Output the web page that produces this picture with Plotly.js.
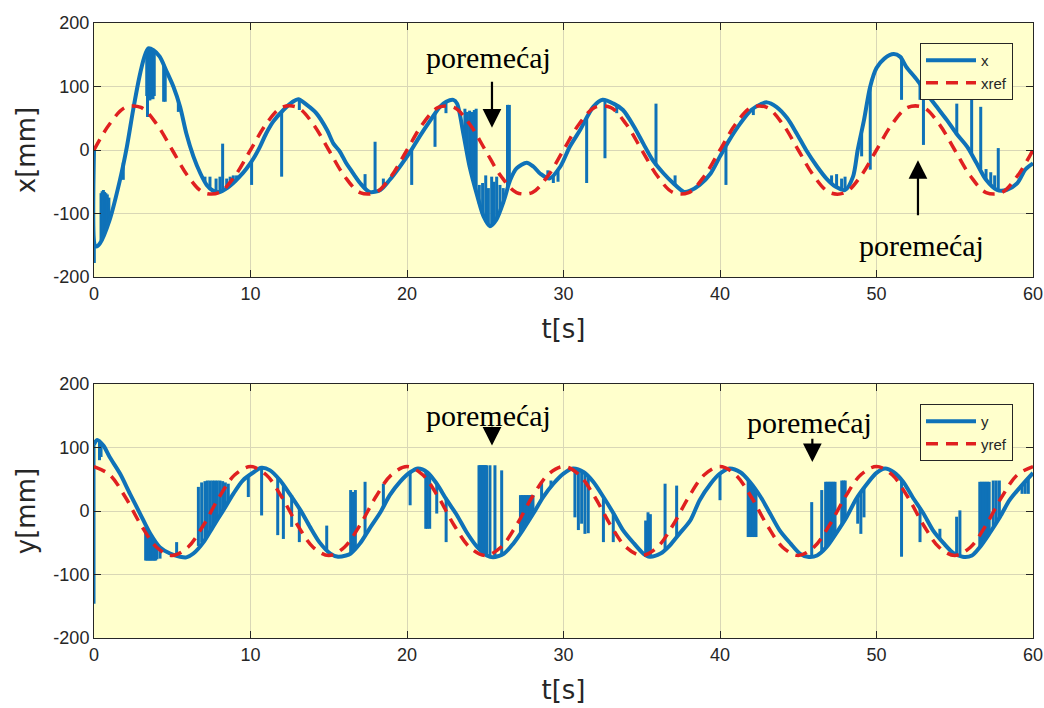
<!DOCTYPE html>
<html><head><meta charset="utf-8">
<script src="https://cdn.plot.ly/plotly-3.0.1.min.js"></script>
<style>html,body{margin:0;padding:0;background:#fff;}#chart{width:1044px;height:708px;}</style>
</head><body><div id="chart"></div>
<script>
// ---- time / tick labels ----
var xTicks = [0, 10, 20, 30, 40, 50, 60];
var yTicks = [-200, -100, 0, 100, 200];

// ---- reference signals (read at 1 s steps) ----
var tRef = [0,1,2,3,4,5,6,7,8,9,10,11,12,13,14,15,16,17,18,19,20,21,22,23,24,25,26,27,28,29,30,31,32,33,34,35,36,37,38,39,40,41,42,43,44,45,46,47,48,49,50,51,52,53,54,55,56,57,58,59,60];
var xRef = [0,41,67,67,41,0,-41,-67,-67,-41, 0,41,67,67,41,0,-41,-67,-67,-41, 0,41,67,67,41,0,-41,-67,-67,-41, 0,41,67,67,41,0,-41,-67,-67,-41, 0,41,67,67,41,0,-41,-67,-67,-41, 0,41,67,67,41,0,-41,-67,-67,-41, 0];
var yRef = [70,57,22,-22,-57,-70,-57,-22,22,57, 70,57,22,-22,-57,-70,-57,-22,22,57, 70,57,22,-22,-57,-70,-57,-22,22,57, 70,57,22,-22,-57,-70,-57,-22,22,57, 70,57,22,-22,-57,-70,-57,-22,22,57, 70,57,22,-22,-57,-70,-57,-22,22,57, 70];

// ---- measured x (main curve) ----
var xCurveT = [0,0.05,0.15,0.38,1.0,1.66,2.1,2.5,2.9,3.2,3.47,3.8,4.2,4.6,5.07,5.5,5.9,6.35,6.8,7.2,7.6,8.05,8.5,8.9,9.3,9.75,10.2,10.6,11.0,11.46,12.1,12.7,13.05,13.6,14.2,14.9,15.3,15.7,16.1,16.4,17.0,17.6,18.3,18.9,19.55,20.2,20.8,21.5,22.1,22.5,22.96,23.2,23.6,24.0,24.5,24.9,25.3,25.7,26.2,26.6,27.0,27.65,28.07,28.5,29.1,29.8,30.4,31.05,31.9,32.5,33.2,33.8,34.5,35.1,35.7,36.4,37.0,37.7,38.1,38.7,39.4,40.0,40.6,41.3,42.0,42.6,43.0,43.6,44.3,44.9,45.5,46.2,46.8,47.4,48.0,48.5,48.8,49.2,49.6,50.0,50.5,51.1,51.5,51.9,52.6,53.2,53.85,54.5,55.1,55.8,56.4,57.0,57.7,58.3,59.0,59.5,60.0];
var xCurveV = [0,-150,-152,-147,-110,-47,5,63,115,145,160,157,147,126,100,68,26,-10,-37,-55,-64,-66,-60,-52,-42,-29,-13,5,26,45,63,76,80,71,58,31,10,-2,-20,-31,-52,-66,-63,-47,-26,-3,21,47,68,76,79,73,26,-26,-73,-105,-120,-110,-79,-47,-29,-20,-26,-37,-45,-26,5,31,68,79,73,63,37,10,-16,-37,-52,-66,-64,-55,-37,-10,16,42,63,72,75,68,50,26,0,-26,-45,-58,-63,-42,0,47,100,129,144,151,147,131,110,89,68,47,26,5,-21,-47,-63,-63,-52,-31,-21];
// ---- measured x (spikes: time, curve value, spike tip) ----
var xSpikeT    = [0.02,0.45,0.52,0.6,0.68,0.76,0.85,0.95,1.87,3.37,3.42,3.5,3.57,3.63,3.7,3.77,3.85,4.45,4.55,5.39,7.09,7.41,7.8,8.05,8.22,8.48,8.7,8.9,9.11,10.07,11.99,13.12,17.32,17.96,18.49,20.3,21.79,22.49,23.7,23.85,24.0,24.15,24.3,24.42,24.62,24.83,25.03,25.2,25.41,25.56,25.73,25.94,26.15,26.42,26.48,26.54,29.0,29.35,29.65,31.48,32.65,33.4,35.91,37.13,40.38,42.13,47.13,47.45,47.77,47.99,49.05,49.6,51.6,52.78,53.0,55.13,56.08,56.66,57.0,57.3,57.55,57.78];
var xSpikeBase = [-150,-142,-138,-134,-130,-125,-120,-113,-20,156,158,160,160,159,158,157,156,135,130,78,-50,-60,-65,-66,-64,-60,-56,-52,-47,-18,60,80,-62,-66,-60,0,57,76,15,-5,-26,-40,-55,-65,-85,-100,-110,-118,-120,-115,-108,-95,-82,-60,-55,-50,-45,-40,-32,50,79,70,-25,-55,5,65,-55,-58,-61,-63,25,100,147,105,97,26,-5,-30,-47,-55,-60,-63];
var xSpikeTip  = [-178,-68,-65,-63,-66,-68,-70,-75,-47,85,52,80,78,80,82,80,85,76,76,60,-42,-42,-45,-42,10,-45,-42,-40,-40,-55,-42,63,-38,13,-45,-55,5,58,65,60,62,60,63,65,-55,-52,-40,-60,-42,-50,-42,-55,-60,71,71,71,-32,-52,-50,-52,-13,58,73,-40,-55,55,-40,-38,-45,-42,-10,-31,79,79,8,73,79,68,-30,-35,-40,3];

// ---- measured y (main curve) ----
var yCurveT = [0,0.2,0.6,1.0,1.66,2.3,2.94,3.6,4.2,4.86,5.5,5.9,6.35,7.0,7.6,8.26,8.9,9.5,10.2,10.7,11.25,11.9,12.5,13.2,13.8,14.4,15.1,15.6,16.1,16.4,17.0,17.6,18.3,18.9,19.55,20.2,20.7,21.3,21.9,22.5,23.2,23.8,24.5,25.1,25.5,26.2,26.8,27.4,28.07,28.7,29.35,30.0,30.6,31.3,31.9,32.55,33.2,33.8,34.5,35.1,35.5,36.2,36.8,37.4,38.1,38.7,39.4,40.0,40.6,41.3,41.9,42.6,43.2,43.8,44.5,45.1,45.6,46.2,46.8,47.4,48.1,48.7,49.4,50.0,50.55,51.1,51.7,52.3,53.0,53.6,54.3,54.9,55.5,56.1,56.6,57.2,57.9,58.5,59.2,60.0];
var yCurveV = [105,112,103,85,59,27,-4,-36,-57,-67,-72,-73,-67,-49,-25,1,27,48,61,68,64,48,27,1,-25,-49,-67,-72,-70,-67,-51,-28,-2,25,46,61,67,61,43,19,-7,-33,-57,-70,-73,-67,-51,-30,-4,22,43,59,67,61,46,22,-4,-30,-51,-67,-72,-67,-54,-36,-15,17,43,59,67,61,46,22,-4,-30,-51,-67,-72,-70,-57,-36,-9,19,43,60,67,61,46,22,-4,-30,-51,-66,-72,-70,-57,-36,-9,17,38,60];
// ---- measured y (spikes) ----
var ySpikeT    = [0.0,0.35,0.45,3.3,3.38,3.46,3.54,3.62,3.7,3.78,3.86,3.94,4.02,4.22,5.28,6.67,6.88,7.09,7.24,7.41,7.58,7.73,7.88,8.05,8.22,8.39,8.58,9.86,10.71,11.74,12.1,12.63,13.12,14.87,16.4,16.55,16.7,17.32,18.49,20.2,21.2,21.3,21.45,21.9,22.5,24.6,24.66,24.72,24.78,24.84,24.9,24.96,25.02,25.08,25.3,25.62,26.05,27.25,27.35,27.45,27.55,27.65,27.75,27.85,27.95,28.05,28.6,29.2,30.73,30.95,31.16,31.37,31.58,32.55,33.18,35.25,35.4,35.55,36.49,37.23,40.0,41.8,41.9,42.0,42.1,42.2,42.3,45.86,46.5,46.75,46.85,46.95,47.05,47.15,47.25,47.35,47.78,47.9,48.0,48.8,49.0,49.2,51.6,52.78,54.05,55.12,55.33,56.6,56.7,56.8,56.9,57.0,57.1,57.2,57.46,57.65,57.85,59.3,59.5,59.7];
var ySpikeBase = [105,110,108,-26,-30,-34,-37,-40,-43,-46,-48,-51,-53,-57,-71,-55,-50,-46,-40,-33,-26,-20,-13,-7,-1,6,14,55,68,52,42,25,5,-63,-67,-64,-60,-40,5,61,62,61,57,43,19,-58,-60,-62,-64,-65,-67,-68,-69,-70,-72,-72,-68,-36,-32,-28,-24,-20,-16,-12,-8,-4,18,38,66,64,62,60,55,22,-4,-68,-70,-72,-62,-40,59,48,46,41,37,33,29,-72,-65,-58,-55,-52,-48,-44,-40,-37,-22,-18,-13,22,30,37,50,5,-45,-68,-70,-57,-54,-51,-47,-43,-40,-36,-27,-20,-11,40,47,53];
var ySpikeTip  = [-146,80,85,-78,-78,-78,-78,-78,-78,-78,-78,-78,-76,-75,-49,38,45,47,48,48,48,48,48,48,47,45,43,22,-7,-38,-44,-25,-49,-23,33,30,33,46,43,9,-28,-28,-28,-4,-49,72,72,72,72,72,72,72,72,72,72,72,64,25,25,25,25,25,25,25,25,25,45,48,-10,-30,-20,-36,-35,-49,-49,-15,-2,-5,43,40,17,-41,-41,-41,-41,-41,-41,14,33,46,46,46,46,46,46,46,48,48,48,-20,-36,-10,-72,-49,-28,-9,1,46,46,46,46,46,46,46,48,48,48,27,27,27];

// ---- annotation texts ----
var noteText = 'poremećaj';

var BLUE = '#0f72b8', RED = '#e02020', INK = '#262626';

function spikeTrace(t, base, tip, xa, ya) {
  var xs = [], ys = [];
  for (var i = 0; i < t.length; i++) { xs.push(t[i], t[i], null); ys.push(base[i], tip[i], null); }
  return {x: xs, y: ys, xaxis: xa, yaxis: ya, mode: 'lines', line: {color: BLUE, width: 3}, showlegend: false, hoverinfo: 'skip', connectgaps: false};
}

var traces = [
  spikeTrace(xSpikeT, xSpikeBase, xSpikeTip, 'x', 'y'),
  {x: xCurveT, y: xCurveV, xaxis: 'x', yaxis: 'y', mode: 'lines', name: 'x', legend: 'legend',
   line: {color: BLUE, width: 4, shape: 'spline', smoothing: 0.8}},
  {x: tRef, y: xRef, xaxis: 'x', yaxis: 'y', mode: 'lines', name: 'xref', legend: 'legend',
   line: {color: RED, width: 3.5, dash: '12px,8px', shape: 'spline'}},
  spikeTrace(ySpikeT, ySpikeBase, ySpikeTip, 'x2', 'y2'),
  {x: yCurveT, y: yCurveV, xaxis: 'x2', yaxis: 'y2', mode: 'lines', name: 'y', legend: 'legend2',
   line: {color: BLUE, width: 4, shape: 'spline', smoothing: 0.8}},
  {x: tRef, y: yRef, xaxis: 'x2', yaxis: 'y2', mode: 'lines', name: 'yref', legend: 'legend2',
   line: {color: RED, width: 3.5, dash: '12px,8px', shape: 'spline'}}
];

var tickFont = {family: 'Liberation Sans, Arial, sans-serif', size: 18, color: INK};
var titleFont = {family: 'DejaVu Sans, sans-serif', size: 26, color: INK};

function xAxis(anchor) {
  return {anchor: anchor, domain: [0, 1], range: [0, 60], tickvals: xTicks, ticktext: xTicks.map(String),
    showgrid: true, gridcolor: '#d9d7b6', gridwidth: 1, zeroline: false,
    showline: true, linecolor: INK, linewidth: 1, mirror: 'ticks', ticks: 'inside', ticklen: 7, tickcolor: INK,
    tickfont: tickFont, title: {text: 't[s]', font: titleFont, standoff: 17}};
}
function yAxis(anchor, dom, label) {
  return {anchor: anchor, domain: dom, range: [-200, 200], tickvals: yTicks, ticktext: yTicks.map(String),
    showgrid: true, gridcolor: '#d9d7b6', gridwidth: 1, zeroline: false,
    showline: true, linecolor: INK, linewidth: 1, mirror: 'ticks', ticks: 'inside', ticklen: 7, tickcolor: INK,
    tickfont: tickFont, title: {text: label, font: titleFont, standoff: 10}};
}

var legendBase = {xanchor: 'right', yanchor: 'top', bgcolor: '#FFFFCC', bordercolor: INK, borderwidth: 1,
  font: {family: 'Liberation Sans, Arial, sans-serif', size: 15, color: INK}, itemwidth: 50, tracegroupgap: 0};

var noteFont = {family: 'Liberation Serif, Times New Roman, serif', size: 30, color: '#000'};
function note(xa, ya, t, v) { return {xref: xa, yref: ya, x: t, y: v, text: noteText, showarrow: false, font: noteFont}; }
function arrow(xa, ya, t, v, t0, v0) {
  return {xref: xa, yref: ya, x: t, y: v, axref: xa, ayref: ya, ax: t0, ay: v0, text: '', showarrow: true,
    arrowhead: 2, arrowsize: 1.7, arrowwidth: 2.2, arrowcolor: '#000', standoff: 0, startstandoff: 0};
}

var layout = {
  width: 1044, height: 708,
  margin: {l: 94, r: 11, t: 23, b: 70},
  paper_bgcolor: '#ffffff', plot_bgcolor: '#FFFFCC',
  xaxis: xAxis('y'), yaxis: yAxis('x', [0.587, 1], 'x[mm]'),
  xaxis2: xAxis('y2'), yaxis2: yAxis('x2', [0, 0.413], 'y[mm]'),
  legend: Object.assign({x: 0.9787, y: 0.9675}, legendBase),
  legend2: Object.assign({x: 0.9787, y: 0.3805}, legendBase),
  annotations: [
    note('x', 'y', 25.2, 146), arrow('x', 'y', 25.43, 35, 25.43, 110),
    note('x', 'y', 52.9, -150), arrow('x', 'y', 52.65, -16, 52.65, -105),
    note('x2', 'y2', 25.2, 150), arrow('x2', 'y2', 25.43, 103, 25.43, 135),
    note('x2', 'y2', 45.7, 140), arrow('x2', 'y2', 45.9, 77, 45.9, 116)
  ],
  showlegend: true
};

Plotly.newPlot('chart', traces, layout, {displayModeBar: false, staticPlot: true});
</script></body></html>
